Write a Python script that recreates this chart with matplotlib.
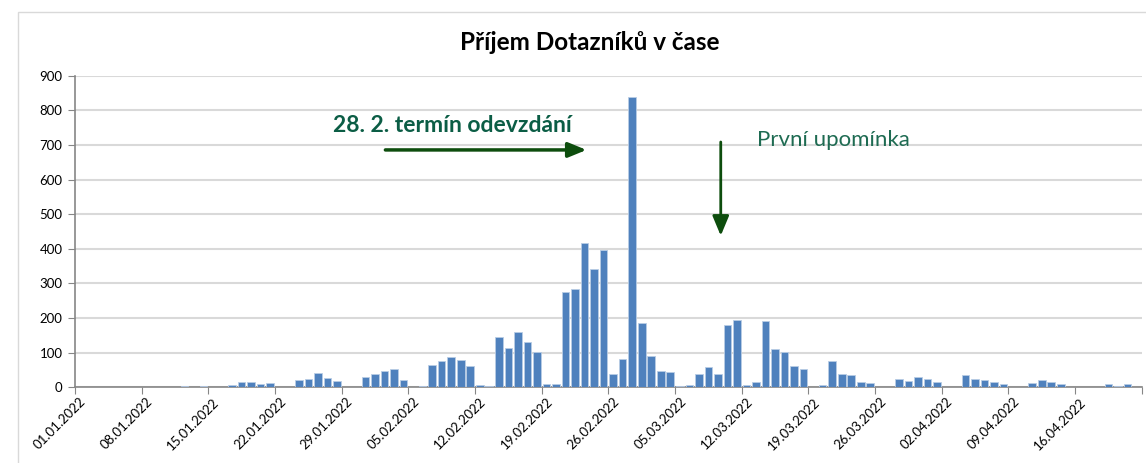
import matplotlib
matplotlib.use("Agg")
import matplotlib.pyplot as plt
from matplotlib.patches import Rectangle

# daily counts of received questionnaires, 01.01.2022 - 22.04.2022
values = [
    0, 0, 0, 0, 0, 0, 0, 0, 0, 0, 0, 4, 0, 4,
    0, 0, 7, 15, 15, 10, 12, 0, 0, 20, 23, 41, 27, 18,
    0, 0, 31, 38, 47, 52, 20, 0, 3, 64, 77, 87, 79, 62,
    6, 4, 146, 114, 161, 131, 102, 9, 10, 274, 285, 417, 342, 396,
    37, 83, 839, 185, 91, 47, 45, 4, 8, 37, 58, 37, 181, 195,
    6, 14, 193, 110, 102, 62, 54, 0, 6, 75, 39, 35, 16, 12,
    0, 0, 25, 18, 29, 24, 16, 0, 0, 36, 24, 20, 14, 10,
    0, 0, 13, 21, 15, 9, 0, 0, 0, 0, 10, 4, 10, 0,
]
week_labels = [
    "01.01.2022", "08.01.2022", "15.01.2022", "22.01.2022", "29.01.2022",
    "05.02.2022", "12.02.2022", "19.02.2022", "26.02.2022", "05.03.2022",
    "12.03.2022", "19.03.2022", "26.03.2022", "02.04.2022", "09.04.2022",
    "16.04.2022",
]
y_ticks = [0, 100, 200, 300, 400, 500, 600, 700, 800, 900]

plt.rcParams["font.family"] = ["Lato", "DejaVu Sans"]

fig = plt.figure(figsize=(11.46, 4.63), dpi=100)
ax = fig.add_axes([0.0654, 0.1635, 0.9309, 0.6726])

# chart frame
fig.patches.append(Rectangle((0.016, -0.01), 0.99, 0.985, transform=fig.transFigure,
                             fill=False, edgecolor="#d9d9d9", linewidth=1))

days = range(len(values))
ax.bar([d + 0.5 for d in days], values, width=0.8, color="#4f81bd",
       edgecolor="#b9cde5", linewidth=0.6, zorder=3)

ax.set_xlim(0, len(values))
ax.set_ylim(0, 900)
ax.set_yticks(y_ticks)
ax.yaxis.grid(True, color="#d9d9d9", linewidth=1.5, zorder=0)
ax.tick_params(axis="y", labelsize=9.5, length=5, color="#868686", pad=4)

# tick marks between weeks, labels on the dates
ax.set_xticks(range(0, len(values) + 1, 7))
ax.set_xticklabels([])
ax.tick_params(axis="x", length=5, color="#868686")
ax.set_xticks([i * 7 + 0.5 for i in range(len(week_labels))], minor=True)
ax.set_xticklabels(week_labels, minor=True, rotation=45, ha="right", va="top",
                   rotation_mode="anchor", fontsize=9.5)
ax.tick_params(axis="x", which="minor", length=0, pad=6)

for s in ["top", "right"]:
    ax.spines[s].set_visible(False)
for s in ["left", "bottom"]:
    ax.spines[s].set_color("#868686")
    ax.spines[s].set_linewidth(1.2)

fig.text(0.515, 0.909, "Příjem Dotazníků v čase", ha="center", va="center",
         fontsize=17.5, fontweight="bold")

# annotations
ax.text(27.1, 758, "28. 2. termín odevzdání", ha="left", va="center",
        fontsize=16.5, fontweight="bold", color="#0b5d45")
ax.annotate("", xy=(54.0, 686), xytext=(32.3, 686),
            arrowprops=dict(arrowstyle="-|>,head_length=1.1,head_width=0.45",
                            color="#0d4d0d", lw=2.5))
ax.text(71.6, 715, "První upomínka", ha="left", va="center",
        fontsize=16, color="#1e6b52")
ax.annotate("", xy=(67.8, 430), xytext=(67.8, 717),
            arrowprops=dict(arrowstyle="-|>,head_length=1.2,head_width=0.5",
                            color="#0d4d0d", lw=2))

fig.savefig("out.png", dpi=100)
